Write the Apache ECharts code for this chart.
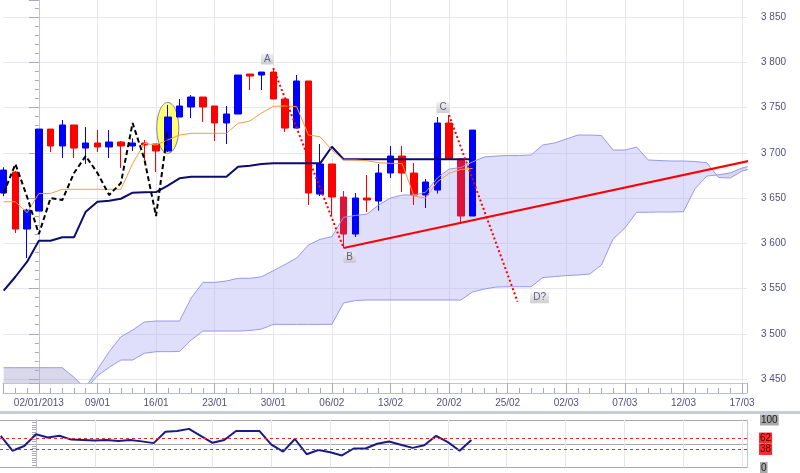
<!DOCTYPE html>
<html><head><meta charset="utf-8">
<script src="https://cdn.jsdelivr.net/npm/echarts@6/dist/echarts.min.js"></script>
<style>html,body{margin:0;padding:0;background:#fff}#c{width:800px;height:473px}</style>
</head><body><div id="c"></div>
<script>
// candle index of the first labelled date (02/01/2013)
const FIRST_LABEL_INDEX = 3;
const tickLabels = ['02/01/2013','09/01','16/01','23/01','30/01','06/02','13/02','20/02','25/02','02/03','07/03','12/03','17/03'];

const open  = [3655.5,3678.7,3615.7,3635.6,3726.2,3707.5,3730.7,3705.2,3710.8,3706.4,3711.9,3707.5,3710.8,3709.7,3701.9,3739.5,3750.6,3761.6,3751.7,3732.9,3742.8,3787.0,3785.9,3789.2,3759.4,3727.3,3779.3,3654.4,3687.6,3651.1,3610.2,3650.0,3646.7,3677.6,3696.4,3677.6,3653.3,3658.8,3732.9,3693.1,3630.1];
const close = [3680.9,3615.7,3636.7,3726.2,3707.5,3730.7,3705.2,3710.8,3706.4,3711.9,3707.5,3710.8,3708.6,3701.9,3739.5,3751.7,3761.6,3750.6,3732.9,3742.8,3785.9,3784.8,3789.2,3759.4,3727.3,3779.3,3655.5,3687.6,3651.1,3610.2,3650.0,3647.8,3677.6,3696.4,3677.6,3653.3,3667.7,3732.9,3693.1,3630.1,3725.1];
const low   = [3652.0,3611.3,3583.7,3635.6,3700.8,3694.2,3694.2,3687.6,3700.8,3694.2,3683.1,3702.0,3692.0,3678.7,3700.8,3739.5,3738.4,3734.0,3713.0,3709.7,3742.8,3769.3,3769.3,3759.4,3722.9,3727.3,3642.3,3652.2,3631.2,3594.8,3606.9,3634.5,3636.0,3672.1,3656.6,3642.3,3638.9,3655.0,3693.1,3622.4,3630.1];
const high  = [3684.0,3680.0,3638.0,3726.2,3726.2,3736.2,3730.7,3728.5,3725.1,3725.1,3713.0,3716.0,3714.1,3709.7,3752.8,3759.4,3763.8,3761.6,3751.7,3751.7,3785.9,3787.0,3789.2,3793.6,3759.4,3785.9,3779.3,3709.7,3687.6,3657.7,3655.5,3675.4,3687.6,3707.5,3707.5,3688.7,3671.0,3739.5,3741.7,3693.1,3725.1];
const crimsonCandles = [29, 39];

const kijun  = [3547.6,3563.0,3579.6,3602.8,3602.8,3606.6,3606.6,3634.9,3645.9,3647.0,3649.2,3655.9,3656.3,3656.6,3663.6,3671.8,3673.5,3673.5,3673.5,3673.5,3684.6,3685.7,3687.6,3688.3,3688.3,3688.3,3688.3,3688.3,3706.7,3692.8,3692.8,3692.8,3692.8,3692.8,3692.8,3692.8,3692.8,3692.8,3692.8,3692.8,3692.8];
const tenkan = [3645.9,3645.9,3633.8,3655.0,3655.0,3659.6,3659.6,3659.6,3659.6,3659.6,3659.6,3688.0,3710.4,3708.6,3714.1,3719.6,3721.5,3721.5,3721.5,3721.5,3732.5,3735.1,3743.9,3751.3,3751.7,3750.9,3719.6,3717.7,3703.0,3692.0,3692.0,3691.2,3689.0,3688.3,3688.1,3652.2,3650.0,3668.0,3677.3,3681.5,3682.6];
const chikou = [3655.5,3687.6,3651.1,3610.2,3650.0,3647.8,3677.6,3696.4,3677.6,3653.3,3666.6,3732.9,3693.1,3630.1,3725.1];

const spanA = [3430,3430,3430,3430,3430,3430,3432,3441,3460.5,3480.2,3496.7,3504.1,3513.0,3514.1,3514.1,3514.1,3539.6,3556.8,3556.8,3558.3,3561.3,3561.3,3563.0,3569.7,3576.5,3583.7,3598.1,3604.4,3607.2,3628.7,3630.7,3632.3,3642.3,3650.0,3653.3,3653.3,3656.4,3672.1,3682.0,3683.7,3689.8,3695.3,3696.4,3697.0,3697.0,3697.5,3708.6,3710.8,3715.2,3719.6,3719.6,3719.1,3703.0,3703.0,3706.3,3692.0,3691.4,3690.9,3690.9,3690.3,3689.0,3672.6,3672.1,3679.8,3683.1];
const spanB = [3462.5,3462.5,3462.5,3462.5,3462.5,3462.5,3451.9,3439,3453.5,3462.9,3471.0,3471.0,3478.4,3480.2,3480.2,3480.4,3493.1,3503.0,3503.0,3503.0,3503.0,3503.6,3505.2,3510.4,3510.4,3510.4,3510.4,3510.4,3510.4,3534.0,3536.7,3537.3,3537.3,3537.3,3537.3,3537.3,3537.3,3537.3,3537.3,3537.3,3546.1,3549.4,3551.6,3552.0,3552.0,3552.0,3562.1,3563.2,3564.3,3564.9,3566.0,3576.0,3604.7,3616.8,3634.2,3634.3,3634.5,3634.5,3634.9,3660.5,3674.3,3675.6,3677.8,3683.1,3686.5];

const oscillator = [66.6,35.3,45.3,70,63.3,66.7,58.7,58,57,58,56,58,55,51.3,75.3,76.7,81.3,66.7,52,58,76.7,76.7,76.7,48,33.3,60,28,36.7,32,25.3,40,40,50,54.7,48,41.3,46.7,66.7,53.3,35.3,58];
const oscLevels = [62, 38];

// [candle index, price]
const trendLine = [[29, 3594.8], [64.5, 3693.5]];
const moveAB = [[23, 3793.6], [29, 3594.8]];
const moveCD = [[38, 3741.7], [43.85, 3535.4]];
const annotations = [['A', 23, 3793.6], ['B', 29, 3594.8], ['C', 38, 3741.7], ['D?', 43.85, 3535.4]];
const highlight = [14, 3727.5];

// ---------- rendering ----------
const X = i => i - FIRST_LABEL_INDEX;
const FONT = 'Liberation Sans';
const fmtPrice = v => Math.round(v).toString().replace(/\B(?=(\d{3})+(?!\d))/g, ' ');
const xMin = -36 / 11.767, xMax = (747 - 36) / 11.767;
const yMin = 3445.6, yMax = 3868.8;

const candles = open.map((o, i) => {
  const item = { value: [X(i), o, close[i], low[i], high[i]] };
  if (crimsonCandles.includes(i)) item.itemStyle = { color0: '#dc143c', borderColor0: '#dc143c' };
  return item;
});
const pts = arr => arr.map((v, i) => [X(i), v]);
const shift = arr => arr.map(p => [X(p[0]), p[1]]);

// cloud fill: polygons between spanA and spanB, split where they cross
function cloudRender(params, api) {
  const runs = [];
  let cur = null;
  for (let i = 0; i < spanA.length; i++) {
    const x = X(i), a = spanA[i], b = spanB[i];
    const s = a >= b ? 1 : -1;
    if (!cur) { cur = { s, up: [[x, a]], lo: [[x, b]] }; continue; }
    if (s !== cur.s) {
      const a0 = spanA[i - 1], b0 = spanB[i - 1], x0 = X(i - 1);
      const d0 = a0 - b0, d1 = a - b, t = d0 / (d0 - d1);
      const xc = x0 + t, yc = a0 + t * (a - a0);
      cur.up.push([xc, yc]); cur.lo.push([xc, yc]);
      runs.push(cur);
      cur = { s, up: [[xc, yc], [x, a]], lo: [[xc, yc], [x, b]] };
    } else { cur.up.push([x, a]); cur.lo.push([x, b]); }
  }
  runs.push(cur);
  return {
    type: 'group',
    children: runs.map(r => ({
      type: 'polygon',
      shape: { points: r.up.concat(r.lo.slice().reverse()).map(p => api.coord(p)) },
      style: { fill: r.s > 0 ? 'rgba(178,178,245,0.41)' : 'rgba(160,160,204,0.41)' }
    }))
  };
}

const hidden = { show: false };
const labelOffsets = { 'A': [-6, -9], 'B': [6, 9.5], 'C': [-6, -7.5], 'D?': [22, -4] };

const option = {
  animation: false,
  backgroundColor: '#ffffff',
  textStyle: { fontFamily: FONT },
  grid: [
    { left: 0, top: 0, width: 747, height: 383 },
    { left: 0, top: 420, width: 747, height: 50 }
  ],
  xAxis: [
    { type: 'value', gridIndex: 0, min: xMin, max: xMax, minInterval: 5, maxInterval: 5, splitNumber: 13,
      position: 'bottom', offset: 10,
      axisLine: { show: true, lineStyle: { color: '#b8bccc' } },
      axisTick: { show: true, inside: true, length: 10, lineStyle: { color: '#aab' } },
      minorTick: { show: true, splitNumber: 5, length: 5, lineStyle: { color: '#aab' } },
      axisLabel: { margin: 5, color: '#50507e', fontSize: 10, fontFamily: FONT,
        formatter: v => { const k = v / 5, r = Math.round(k); return (Math.abs(k - r) < 1e-6 && r >= 0 && r < tickLabels.length) ? tickLabels[r] : ''; } },
      splitLine: { show: true, showMinLine: false, showMaxLine: false, lineStyle: { color: '#e6e6ec' } } },
    { type: 'value', gridIndex: 0, min: xMin, max: xMax, position: 'bottom', offset: 0,
      axisLine: { show: true, lineStyle: { color: '#c4c6d2' } }, axisTick: hidden, axisLabel: hidden, splitLine: hidden },
    { type: 'value', gridIndex: 1, min: xMin, max: xMax, minInterval: 5, maxInterval: 5, splitNumber: 13,
      axisLine: hidden, axisTick: hidden, axisLabel: hidden,
      splitLine: { show: true, showMinLine: false, showMaxLine: false, lineStyle: { color: '#e6e6ec' } } }
  ],
  yAxis: [
    { type: 'value', gridIndex: 0, min: yMin, max: yMax, minInterval: 50, maxInterval: 50, splitNumber: 8,
      position: 'right', offset: 10,
      axisLine: { show: true, lineStyle: { color: '#b8bccc' } },
      axisTick: { show: true, inside: true, length: 10, lineStyle: { color: '#aab' } },
      minorTick: { show: true, splitNumber: 5, length: 4, lineStyle: { color: '#aab' } },
      axisLabel: { margin: 4, color: '#50507e', fontSize: 10, fontFamily: FONT,
        formatter: v => (Math.abs(v / 50 - Math.round(v / 50)) < 1e-6 ? fmtPrice(v) : '') },
      splitLine: { show: true, showMinLine: false, showMaxLine: false, lineStyle: { color: '#e6e6ec' } } },
    { type: 'value', gridIndex: 0, min: yMin, max: yMax, position: 'right', offset: 0,
      axisLine: { show: true, lineStyle: { color: '#c4c6d2' } }, axisTick: hidden, axisLabel: hidden, splitLine: hidden },
    { type: 'value', gridIndex: 1, min: 0, max: 100, interval: 50, position: 'right', offset: 10,
      axisLine: { show: true, lineStyle: { color: '#b8bccc' } },
      axisTick: { show: true, inside: true, length: 10, lineStyle: { color: '#aab' } },
      minorTick: { show: true, splitNumber: 10, length: 4, lineStyle: { color: '#aab' } },
      axisLabel: { margin: 3, fontSize: 10, fontFamily: FONT,
        formatter: v => v === 50 ? '{p|50}' : '{g|' + v + '}',
        rich: { g: { backgroundColor: '#a9a9a9', color: '#222', padding: [1, 1, 0, 1], fontSize: 10 },
                p: { color: '#666', fontSize: 10 } } },
      splitLine: { show: true, lineStyle: { color: '#a8a8a8', width: 1 } } },
    { type: 'value', gridIndex: 1, min: 0, max: 100, position: 'right', offset: 0,
      axisLine: { show: true, lineStyle: { color: '#c4c6d2' } }, axisTick: hidden, axisLabel: hidden, splitLine: hidden }
  ],
  graphic: [
    { type: 'rect', left: 0, top: 411, shape: { width: 800, height: 3 }, style: { fill: '#c9ccd9' }, silent: true }
  ],
  series: [
    { type: 'custom', name: 'cloud', data: [[X(0), spanA[0]]], clip: true, silent: true, renderItem: cloudRender },
    { type: 'line', name: 'spanA', data: pts(spanA), symbol: 'none', lineStyle: { color: '#9898ec', width: 1 }, silent: true },
    { type: 'line', name: 'spanB', data: pts(spanB), symbol: 'none', lineStyle: { color: '#9898ec', width: 1 }, silent: true },
    { type: 'custom', name: 'highlight', data: [[X(highlight[0]), highlight[1]]], clip: true,
      renderItem: (params, api) => {
        const c = api.coord([api.value(0), api.value(1)]);
        return { type: 'ellipse', shape: { cx: c[0], cy: c[1], rx: 11, ry: 25.5 },
                 style: { fill: 'rgba(255,255,100,0.9)', stroke: '#8080a8', lineWidth: 1 } };
      } },
    { type: 'candlestick', name: 'price', data: candles, encode: { x: 0, y: [1, 2, 3, 4] }, barWidth: 7,
      itemStyle: { color: '#0000ff', color0: '#ff0000', borderColor: '#0000ff', borderColor0: '#ff0000', borderWidth: 1 },
      markLine: { silent: true, symbol: 'none', animation: false,
        data: [{ yAxis: close[close.length - 1] }],
        lineStyle: { opacity: 0 },
        label: { show: true, position: 'end', distance: 9, formatter: p => fmtPrice(p.value),
          backgroundColor: '#5cc4f0', color: '#1e2a48', padding: [2, 2, 1, 2], fontSize: 10, fontFamily: FONT } } },
    { type: 'line', name: 'kijun', data: pts(kijun), symbol: 'none', lineStyle: { color: '#0c0c70', width: 2 } },
    { type: 'line', name: 'tenkan', data: pts(tenkan), symbol: 'none', lineStyle: { color: '#ff9a3c', width: 1 } },
    { type: 'line', name: 'chikou', data: pts(chikou), symbol: 'none', lineStyle: { color: '#000', width: 2, type: [5, 3] } },
    { type: 'line', name: 'trend', data: shift(trendLine), symbol: 'none', lineStyle: { color: '#ff0000', width: 2 } },
    { type: 'line', name: 'AB', data: shift(moveAB), symbol: 'none', lineStyle: { color: '#ff0000', width: 2, type: [2, 2.5] } },
    { type: 'line', name: 'CD', data: shift(moveCD), symbol: 'none', lineStyle: { color: '#ff0000', width: 2, type: [2, 2.5] } },
    { type: 'scatter', name: 'labels', symbolSize: 0, silent: true,
      data: annotations.map(a => ({ name: a[0], value: [X(a[1]), a[2]],
        label: { show: true, position: 'inside', offset: labelOffsets[a[0]], formatter: a[0],
          backgroundColor: { type: 'linear', x: 0, y: 0, x2: 0, y2: 1, colorStops: [{ offset: 0, color: '#eeeeee' }, { offset: 1, color: '#c2c2c2' }] },
          color: '#3a3a70', fontSize: 10, fontFamily: FONT, padding: [1, 3, 0, 3], borderRadius: 1 } })) },
    { type: 'line', name: 'osc', xAxisIndex: 2, yAxisIndex: 2, data: pts(oscillator), symbol: 'none',
      lineStyle: { color: '#1a1a8a', width: 2 },
      markLine: { silent: true, symbol: 'none', animation: false,
        data: oscLevels.map(v => ({ yAxis: v })),
        lineStyle: { color: '#ff2020', type: [3, 3], width: 1 },
        label: { show: true, position: 'end', distance: 12, formatter: p => String(p.value),
          backgroundColor: '#ff2a2a', color: '#4a0000', padding: [1, 1, 0, 1], fontSize: 10, fontFamily: FONT } } }
  ]
};

const chart = echarts.init(document.getElementById('c'), null, { renderer: 'canvas' });
chart.setOption(option);
</script>
</body></html>
